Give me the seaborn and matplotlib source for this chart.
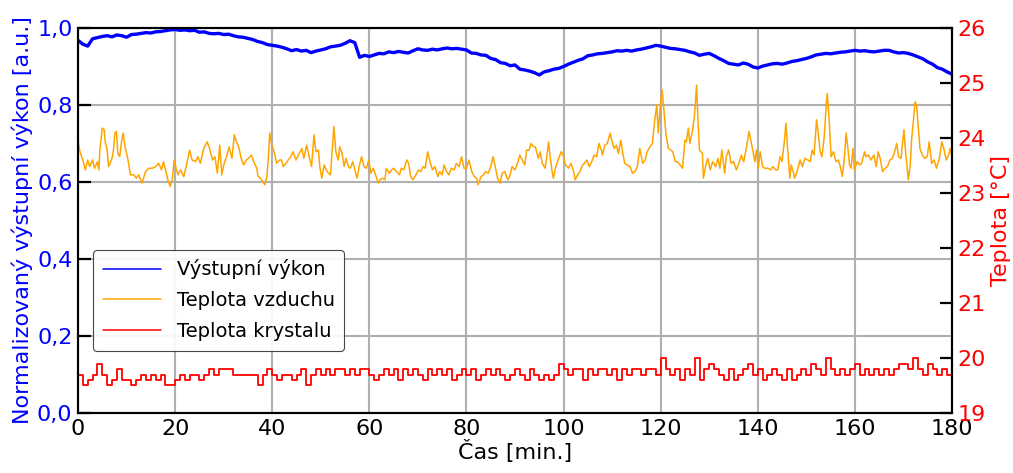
import numpy as np
import pandas as pd
import matplotlib
matplotlib.use("Agg")
import matplotlib.pyplot as plt
from matplotlib.ticker import FuncFormatter, MultipleLocator
import seaborn as sns

# ---------------- data ----------------
# Normalised output power, sampled every minute (0..180)
power_t = np.arange(0, 181, 1)
power_v = [
    0.968, 0.958, 0.953, 0.972, 0.975, 0.978, 0.980, 0.977, 0.982, 0.980,
    0.976, 0.983, 0.984, 0.986, 0.988, 0.987, 0.990, 0.991, 0.993, 0.995,
    0.996, 0.994, 0.995, 0.993, 0.994, 0.989, 0.990, 0.986, 0.985, 0.986,
    0.983, 0.984, 0.980, 0.977, 0.976, 0.973, 0.970, 0.965, 0.962, 0.957,
    0.955, 0.953, 0.950, 0.946, 0.941, 0.944, 0.940, 0.942, 0.936, 0.940,
    0.943, 0.946, 0.951, 0.953, 0.955, 0.960, 0.967, 0.962, 0.924, 0.929,
    0.926, 0.930, 0.934, 0.933, 0.938, 0.936, 0.939, 0.937, 0.935, 0.941,
    0.946, 0.943, 0.942, 0.945, 0.943, 0.946, 0.948, 0.946, 0.947, 0.945,
    0.943, 0.935, 0.934, 0.930, 0.929, 0.921, 0.918, 0.910, 0.908, 0.902,
    0.904, 0.893, 0.891, 0.888, 0.884, 0.878, 0.886, 0.889, 0.893, 0.895,
    0.900, 0.906, 0.911, 0.916, 0.920, 0.928, 0.930, 0.933, 0.934, 0.936,
    0.938, 0.941, 0.940, 0.942, 0.940, 0.943, 0.945, 0.948, 0.951, 0.955,
    0.953, 0.950, 0.947, 0.946, 0.944, 0.942, 0.938, 0.935, 0.929, 0.932,
    0.934, 0.928, 0.921, 0.915, 0.908, 0.906, 0.904, 0.909, 0.906, 0.899,
    0.896, 0.901, 0.904, 0.907, 0.908, 0.906, 0.909, 0.913, 0.915, 0.918,
    0.921, 0.925, 0.930, 0.932, 0.934, 0.933, 0.935, 0.937, 0.938, 0.940,
    0.942, 0.940, 0.941, 0.939, 0.938, 0.940, 0.942, 0.942, 0.938, 0.935,
    0.936, 0.934, 0.930, 0.925, 0.920, 0.912, 0.906, 0.897, 0.893, 0.886,
    0.880,
]

# Air temperature [°C]
air_t = [
    0.0, 0.4, 1.0, 1.5, 2.0, 2.4, 3.0, 3.4, 4.0, 4.3, 4.5, 5.0, 5.4, 5.6, 6.0, 6.3,
    7.0, 7.3, 7.6, 7.9, 8.2, 8.6, 9.0, 9.3, 9.7, 10.3, 10.8, 11.5, 12.0, 12.5, 13.2,
    13.9, 14.6, 15.3, 16.0, 16.6, 17.2, 17.6, 18.2, 18.5, 19.0, 19.4, 19.8, 20.2,
    20.6, 21.1, 21.8, 22.5, 23.0, 23.5, 24.2, 24.7, 25.2, 25.9, 26.6, 27.0, 27.7,
    28.2, 28.7, 29.2, 29.6, 30.1, 30.7, 31.1, 31.7, 32.2, 32.6, 33.1, 33.6, 34.1,
    34.7, 35.1, 35.7, 36.2, 36.8, 37.1, 37.6, 38.2, 38.5, 38.9, 39.2, 39.5, 39.9,
    40.4, 40.9, 41.5, 41.9, 42.3, 42.8, 43.3, 43.8, 44.3, 44.9, 45.4, 46.1, 46.5,
    47.1, 47.6, 48.1, 48.6, 49.0, 49.5, 49.8, 50.2, 50.7, 51.1, 51.6, 52.0, 52.4,
    52.7, 53.1, 53.6, 53.9, 54.4, 54.8, 55.2, 55.7, 56.1, 56.6, 57.0, 57.5, 57.9,
    58.4, 58.9, 59.4, 59.9, 60.3, 60.8, 61.4, 61.8, 62.2, 62.7, 63.2, 63.5, 64.1,
    64.6, 65.0, 65.6, 66.2, 66.6, 67.1, 67.7, 68.1, 68.5, 69.0, 69.6, 70.1, 70.6,
    71.1, 71.5, 72.0, 72.5, 73.0, 73.5, 74.1, 74.5, 75.0, 75.4, 75.9, 76.4, 76.9,
    77.5, 77.9, 78.5, 79.0, 79.5, 80.0, 80.5, 81.1, 81.6, 82.1, 82.4, 83.0, 83.5,
    83.9, 84.5, 85.0, 85.5, 86.0, 86.4, 86.9, 87.4, 87.9, 88.5, 88.9, 89.4, 90.0,
    90.5, 91.0, 91.5, 92.0, 92.4, 92.9, 93.3, 93.8, 94.2, 94.8, 95.2, 95.6, 96.2,
    96.6, 96.9, 97.2, 97.6, 97.9, 98.4, 98.9, 99.5, 99.9, 100.4, 101.0, 101.5,
    102.0, 102.4, 102.9, 103.4, 103.9, 104.3, 104.8, 105.3, 105.8, 106.3, 106.8,
    107.3, 107.8, 108.0, 108.5, 109.0, 109.6, 110.0, 110.4, 110.9, 111.3, 111.8,
    112.2, 112.6, 113.1, 113.7, 114.2, 114.7, 115.2, 115.7, 116.3, 116.8, 117.2,
    117.8, 118.3, 118.7, 119.2, 119.5, 119.9, 120.3, 120.7, 121.1, 121.6, 122.1,
    122.5, 123.0, 123.4, 124.0, 124.5, 125.0, 125.3, 125.7, 126.0, 126.6, 127.0,
    127.4, 127.7, 128.0, 128.6, 128.8, 129.3, 129.7, 130.2, 130.7, 131.3, 131.8,
    132.2, 132.6, 133.2, 133.5, 134.0, 134.5, 135.0, 135.6, 136.1, 136.6, 137.1,
    137.7, 138.2, 138.5, 138.9, 139.4, 139.7, 140.1, 140.5, 141.0, 141.4, 142.1,
    142.6, 143.1, 143.7, 144.1, 144.6, 145.0, 145.5, 145.8, 146.1, 146.6, 146.9,
    147.3, 147.6, 148.2, 148.7, 149.2, 149.7, 150.3, 150.8, 151.2, 151.6, 152.1,
    152.5, 152.8, 153.2, 153.7, 154.0, 154.3, 154.7, 155.1, 155.6, 156.1, 156.6,
    157.0, 157.4, 157.8, 158.2, 158.6, 158.9, 159.2, 159.6, 159.9, 160.5, 161.0,
    161.4, 162.0, 162.3, 162.8, 163.3, 163.9, 164.4, 164.8, 165.2, 165.7, 166.2,
    166.7, 167.2, 167.7, 168.2, 168.6, 169.0, 169.5, 170.1, 170.4, 170.8, 171.0,
    171.4, 171.7, 172.1, 172.4, 172.7, 173.1, 173.4, 173.9, 174.4, 174.9, 175.3,
    175.8, 176.3, 176.8, 177.4, 177.9, 178.4, 178.8, 179.3, 179.6, 180.0,
]
air_v = [
    23.96, 23.75, 23.60, 23.42, 23.60, 23.48, 23.60, 23.45, 23.57, 23.42, 23.78,
    24.18, 24.15, 23.93, 23.78, 23.48, 23.63, 23.78, 24.09, 24.12, 23.72, 23.66,
    23.96, 24.09, 23.84, 23.60, 23.33, 23.33, 23.27, 23.33, 23.18, 23.39, 23.45,
    23.45, 23.48, 23.54, 23.42, 23.57, 23.36, 23.24, 23.12, 23.24, 23.60, 23.45,
    23.33, 23.42, 23.30, 23.57, 23.78, 23.60, 23.57, 23.66, 23.54, 23.81, 23.93,
    23.84, 23.60, 23.66, 23.36, 23.87, 23.33, 23.54, 23.69, 23.84, 23.63, 24.06,
    23.93, 23.84, 23.63, 23.51, 23.60, 23.63, 23.69, 23.57, 23.45, 23.30, 23.27,
    23.18, 23.15, 23.30, 23.63, 24.09, 23.87, 23.75, 23.54, 23.60, 23.60, 23.48,
    23.54, 23.60, 23.66, 23.75, 23.60, 23.69, 23.81, 23.63, 23.87, 23.66, 23.48,
    24.06, 23.75, 23.78, 23.48, 23.27, 23.51, 23.42, 23.36, 23.33, 23.84, 24.21,
    23.75, 23.60, 23.84, 23.72, 23.48, 23.63, 23.48, 23.45, 23.57, 23.42, 23.27,
    23.48, 23.66, 23.48, 23.45, 23.60, 23.36, 23.45, 23.30, 23.18, 23.24, 23.27,
    23.24, 23.45, 23.36, 23.42, 23.45, 23.39, 23.33, 23.45, 23.42, 23.60, 23.54,
    23.30, 23.24, 23.33, 23.42, 23.39, 23.48, 23.45, 23.75, 23.57, 23.42, 23.48,
    23.30, 23.39, 23.33, 23.51, 23.39, 23.33, 23.45, 23.42, 23.54, 23.48, 23.66,
    23.45, 23.45, 23.60, 23.39, 23.30, 23.27, 23.15, 23.30, 23.33, 23.39, 23.36,
    23.48, 23.66, 23.45, 23.27, 23.18, 23.36, 23.39, 23.24, 23.30, 23.48, 23.42,
    23.54, 23.69, 23.60, 23.51, 23.78, 23.78, 23.90, 23.84, 23.84, 23.63, 23.75,
    23.54, 23.45, 23.69, 23.93, 23.69, 23.42, 23.27, 23.48, 23.60, 23.75, 23.69,
    23.51, 23.45, 23.54, 23.42, 23.24, 23.33, 23.39, 23.51, 23.54, 23.60, 23.48,
    23.57, 23.69, 23.66, 23.90, 23.78, 23.69, 23.87, 23.90, 24.09, 23.93, 23.81,
    23.87, 23.72, 23.96, 23.72, 23.54, 23.51, 23.48, 23.36, 23.39, 23.48, 23.81,
    23.54, 23.60, 23.75, 23.84, 23.90, 24.27, 24.60, 24.09, 24.57, 24.87, 24.48,
    24.06, 23.81, 23.78, 23.75, 23.57, 23.57, 23.51, 23.45, 23.96, 23.93, 24.18,
    23.90, 24.15, 24.45, 24.96, 24.27, 23.78, 23.72, 23.27, 23.51, 23.63, 23.42,
    23.57, 23.48, 23.63, 23.45, 23.78, 23.36, 23.66, 23.78, 23.54, 23.57, 23.42,
    23.54, 23.69, 23.57, 23.84, 24.12, 23.99, 23.81, 23.57, 23.78, 23.45, 23.75,
    23.48, 23.45, 23.45, 23.42, 23.48, 23.42, 23.42, 23.66, 23.57, 23.96, 24.27,
    23.87, 23.27, 23.51, 23.39, 23.27, 23.42, 23.60, 23.48, 23.63, 23.60, 23.57,
    23.78, 23.69, 24.33, 24.06, 23.78, 23.66, 24.03, 24.48, 24.81, 24.33, 23.66,
    23.75, 23.57, 23.60, 23.48, 23.30, 23.60, 24.09, 23.78, 23.51, 23.45, 23.81,
    23.42, 23.57, 23.51, 23.54, 23.75, 23.66, 23.69, 23.60, 23.69, 23.48, 23.75,
    23.63, 23.39, 23.45, 23.48, 23.60, 23.63, 23.75, 23.90, 23.66, 23.63, 24.15,
    23.78, 23.42, 23.24, 23.51, 23.99, 24.36, 24.66, 24.60, 24.15, 23.81, 23.69,
    23.63, 23.66, 23.93, 23.54, 23.60, 23.45, 23.63, 23.93, 23.78, 23.60, 23.69,
    23.81, 23.66,
]

# Crystal temperature [°C], sampled every minute (0..180)
crystal_t = np.arange(0, 181, 1)
crystal_v = [
    19.7, 19.5, 19.6, 19.7, 19.9, 19.7, 19.5, 19.6, 19.8, 19.6,
    19.6, 19.5, 19.6, 19.7, 19.6, 19.7, 19.6, 19.7, 19.5, 19.5,
    19.6, 19.7, 19.6, 19.7, 19.7, 19.6, 19.7, 19.8, 19.7, 19.8,
    19.8, 19.8, 19.7, 19.7, 19.7, 19.7, 19.7, 19.5, 19.7, 19.8,
    19.7, 19.6, 19.7, 19.7, 19.6, 19.7, 19.8, 19.5, 19.7, 19.8,
    19.7, 19.8, 19.7, 19.8, 19.8, 19.7, 19.8, 19.7, 19.8, 19.8,
    19.7, 19.6, 19.7, 19.8, 19.7, 19.8, 19.6, 19.8, 19.7, 19.8,
    19.7, 19.6, 19.8, 19.7, 19.8, 19.7, 19.8, 19.6, 19.7, 19.8,
    19.7, 19.8, 19.6, 19.7, 19.8, 19.7, 19.8, 19.7, 19.6, 19.7,
    19.8, 19.7, 19.6, 19.8, 19.7, 19.6, 19.7, 19.6, 19.7, 19.9,
    19.8, 19.7, 19.8, 19.8, 19.6, 19.8, 19.7, 19.8, 19.8, 19.7,
    19.8, 19.6, 19.8, 19.7, 19.8, 19.8, 19.7, 19.8, 19.8, 19.7,
    20.0, 19.8, 19.7, 19.8, 19.6, 19.8, 19.7, 20.0, 19.6, 19.8,
    19.9, 19.8, 19.7, 19.6, 19.8, 19.6, 19.7, 19.8, 19.9, 19.7,
    19.8, 19.6, 19.7, 19.8, 19.7, 19.6, 19.8, 19.6, 19.7, 19.8,
    19.7, 19.9, 19.8, 19.7, 20.0, 19.8, 19.7, 19.8, 19.7, 19.8,
    19.9, 19.7, 19.8, 19.7, 19.8, 19.7, 19.8, 19.7, 19.8, 19.9,
    19.9, 19.8, 20.0, 19.8, 19.7, 19.9, 19.8, 19.7, 19.8, 19.7,
    19.8,
]

labels = ["Výstupní výkon", "Teplota vzduchu", "Teplota krystalu"]
x_ticks = [0, 20, 40, 60, 80, 100, 120, 140, 160, 180]

# ---------------- plotting ----------------
sns.set_theme(style="white")
plt.rcParams["font.family"] = ["DejaVu Sans"]
plt.rcParams["text.color"] = "black"
plt.rcParams["xtick.color"] = "black"
plt.rcParams["ytick.color"] = "black"

fig = plt.figure(figsize=(10.13, 4.73), dpi=100)
ax = fig.add_axes([78 / 1013, 1 - 413 / 473, (952 - 78) / 1013, (413 - 28) / 473])
ax2 = ax.twinx()

df_p = pd.DataFrame({"t": power_t, "v": power_v})
df_a = pd.DataFrame({"t": air_t, "v": air_v})
df_c = pd.DataFrame({"t": crystal_t, "v": crystal_v})

sns.lineplot(data=df_p, x="t", y="v", ax=ax, color="#0000ff", lw=2.4,
             estimator=None, sort=False, legend=False)
sns.lineplot(data=df_a, x="t", y="v", ax=ax2, color="orange", lw=1.1,
             estimator=None, sort=False, legend=False)
sns.lineplot(data=df_c, x="t", y="v", ax=ax2, color="#ff0000", lw=1.3,
             estimator=None, sort=False, legend=False, drawstyle="steps-post")

ax.set_xlim(0, 180)
ax.set_ylim(0, 1.0)
ax2.set_ylim(19, 26)
ax.set_xticks(x_ticks)
ax.yaxis.set_major_locator(MultipleLocator(0.2))
ax.yaxis.set_major_formatter(FuncFormatter(lambda v, p: f"{v:.1f}".replace(".", ",")))
ax2.yaxis.set_major_locator(MultipleLocator(1))

ax.grid(True, color="#b0b0b0", lw=1.5)
ax2.grid(False)

for a in (ax, ax2):
    for s in a.spines.values():
        s.set_color("black")
        s.set_linewidth(1.5)
ax.tick_params(axis="both", direction="in", length=9, width=1.6, labelsize=16,
               color="black", labelcolor="black", pad=4)
ax.tick_params(axis="y", labelcolor="#0000ff")
ax2.tick_params(axis="y", direction="in", length=9, width=1.6, labelsize=16,
                color="black", labelcolor="#ff0000", pad=4)

ax.set_xlabel("Čas [min.]", fontsize=16, color="black", labelpad=1)
ax.set_ylabel("Normalizovaný výstupní výkon [a.u.]", fontsize=16, color="#0000ff", labelpad=3)
ax2.set_ylabel("Teplota [°C]", fontsize=16, color="#ff0000", labelpad=4)

handles = [plt.Line2D([], [], color="#0000ff", lw=1.1),
           plt.Line2D([], [], color="orange", lw=1.1),
           plt.Line2D([], [], color="#ff0000", lw=1.1)]
leg = ax2.legend(handles, labels, loc="lower left", bbox_to_anchor=(0.006, 0.137),
                 fontsize=14, handlelength=3.0, frameon=True, fancybox=True,
                 framealpha=0.9, edgecolor="#333333", borderpad=0.5, labelspacing=0.6,
                 handletextpad=0.8, labelcolor="black")
leg.get_frame().set_linewidth(0.8)

fig.savefig("out.png", dpi=100)
